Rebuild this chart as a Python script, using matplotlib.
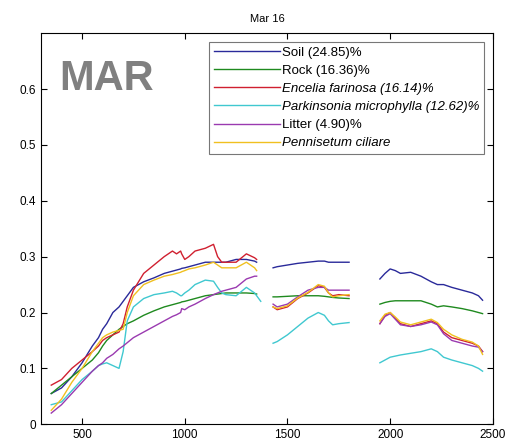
import numpy as np
import matplotlib
matplotlib.use("Agg")
import matplotlib.pyplot as plt

nan = np.nan
# Wavelength (nm) with NaN gaps for water absorption bands
x1 = [350, 400, 450, 500, 550, 580, 600, 620, 650, 680, 700, 720, 750, 800, 850, 900, 940, 960, 980, 985, 1000, 1020, 1050, 1100, 1140, 1160, 1180, 1200, 1250, 1300, 1340, 1350, 1370]
x2 = [1430, 1450, 1500, 1550, 1600, 1650, 1680, 1700, 1720, 1750, 1800]
x3 = [1950, 1975, 2000, 2025, 2050, 2100, 2150, 2200, 2230, 2260, 2300, 2350, 2400, 2430, 2450]

soil1 = [0.055, 0.065, 0.085, 0.11, 0.14, 0.155, 0.17, 0.18, 0.20, 0.21, 0.22, 0.23, 0.245, 0.255, 0.262, 0.27, 0.274, 0.276, 0.278, 0.279, 0.28, 0.282, 0.285, 0.29, 0.29, 0.29, 0.29, 0.29, 0.295, 0.295, 0.292, 0.29, nan]
soil2 = [0.28, 0.282, 0.285, 0.288, 0.29, 0.292, 0.292, 0.29, 0.29, 0.29, 0.29]
soil3 = [0.26, 0.27, 0.278, 0.275, 0.27, 0.272, 0.265, 0.255, 0.25, 0.25, 0.245, 0.24, 0.235, 0.23, 0.222]

rock1 = [0.055, 0.07, 0.085, 0.10, 0.115, 0.128, 0.14, 0.15, 0.16, 0.17, 0.175, 0.18, 0.185, 0.195, 0.203, 0.21, 0.214, 0.216, 0.218, 0.219, 0.22, 0.222, 0.225, 0.23, 0.232, 0.233, 0.234, 0.235, 0.235, 0.235, 0.234, 0.233, nan]
rock2 = [0.228, 0.228, 0.229, 0.23, 0.23, 0.23, 0.229, 0.228, 0.227, 0.226, 0.225]
rock3 = [0.215, 0.218, 0.22, 0.221, 0.221, 0.221, 0.221, 0.215, 0.21, 0.212, 0.21, 0.207, 0.203, 0.2, 0.198]

enc1 = [0.07, 0.08, 0.10, 0.115, 0.13, 0.14, 0.15, 0.155, 0.16, 0.165, 0.18, 0.21, 0.24, 0.27, 0.285, 0.30, 0.31, 0.305, 0.31, 0.305, 0.295, 0.30, 0.31, 0.315, 0.322, 0.30, 0.29, 0.29, 0.29, 0.305, 0.298, 0.295, nan]
enc2 = [0.21, 0.205, 0.21, 0.225, 0.235, 0.248, 0.245, 0.235, 0.23, 0.232, 0.23]
enc3 = [0.18, 0.195, 0.2, 0.19, 0.18, 0.175, 0.18, 0.185, 0.18, 0.165, 0.155, 0.15, 0.145, 0.14, 0.13]

park1 = [0.035, 0.04, 0.06, 0.08, 0.095, 0.105, 0.108, 0.11, 0.105, 0.10, 0.13, 0.185, 0.21, 0.225, 0.232, 0.235, 0.238, 0.235, 0.23, 0.23, 0.235, 0.24, 0.25, 0.258, 0.256, 0.245, 0.235, 0.232, 0.23, 0.245, 0.235, 0.23, 0.22]
park2 = [0.145, 0.148, 0.16, 0.175, 0.19, 0.20, 0.195, 0.185, 0.178, 0.18, 0.182]
park3 = [0.11, 0.115, 0.12, 0.122, 0.124, 0.127, 0.13, 0.135, 0.13, 0.12, 0.115, 0.11, 0.105, 0.10, 0.095]

lit1 = [0.02, 0.035, 0.055, 0.075, 0.095, 0.105, 0.11, 0.118, 0.125, 0.135, 0.14, 0.146, 0.155, 0.165, 0.175, 0.185, 0.193, 0.196, 0.20, 0.207, 0.205, 0.21, 0.215, 0.225, 0.232, 0.235, 0.238, 0.24, 0.245, 0.26, 0.265, 0.265, nan]
lit2 = [0.215, 0.21, 0.215, 0.228, 0.24, 0.245, 0.245, 0.24, 0.24, 0.24, 0.24]
lit3 = [0.18, 0.193, 0.198, 0.188, 0.178, 0.175, 0.178, 0.183, 0.178, 0.162, 0.15, 0.145, 0.14, 0.138, 0.13]

pen1 = [0.025, 0.045, 0.075, 0.10, 0.13, 0.145, 0.155, 0.16, 0.165, 0.168, 0.17, 0.20, 0.23, 0.25, 0.258, 0.265, 0.268, 0.27, 0.272, 0.273, 0.275, 0.278, 0.28, 0.285, 0.29, 0.285, 0.28, 0.28, 0.28, 0.29, 0.28, 0.275, nan]
pen2 = [0.21, 0.207, 0.212, 0.226, 0.236, 0.25, 0.247, 0.235, 0.228, 0.23, 0.232]
pen3 = [0.185, 0.197, 0.2, 0.192, 0.183, 0.178, 0.183, 0.188, 0.182, 0.17, 0.16, 0.152, 0.147, 0.14, 0.125]

labels = ["Soil (24.85)%", "Rock (16.36)%", "Encelia farinosa (16.14)%",
          "Parkinsonia microphylla (12.62)%", "Litter (4.90)%", "Pennisetum ciliare"]
italic = [False, False, True, True, False, True]
colors = ["#2a2a9a", "#1f8a1f", "#d02030", "#40c8d0", "#9a3ab0", "#f0c020"]

xs = x1 + [nan] + x2 + [nan] + x3
series = [soil1 + [nan] + soil2 + [nan] + soil3,
          rock1 + [nan] + rock2 + [nan] + rock3,
          enc1 + [nan] + enc2 + [nan] + enc3,
          park1 + [nan] + park2 + [nan] + park3,
          lit1 + [nan] + lit2 + [nan] + lit3,
          pen1 + [nan] + pen2 + [nan] + pen3]

plt.rcParams['font.family'] = ['Liberation Sans', 'DejaVu Sans']
fig = plt.figure(figsize=(5.06, 4.48), dpi=100)
ax = fig.add_axes([0.081, 0.053, 0.893, 0.873])
for s, c, l in zip(series, colors, labels):
    ax.plot(xs, s, color=c, lw=1.0, label=l)

ax.set_xlim(300, 2500)
ax.set_ylim(0, 0.7)
ax.set_xticks([500, 1000, 1500, 2000, 2500])
ax.set_yticks([0, 0.1, 0.2, 0.3, 0.4, 0.5, 0.6])
ax.set_yticklabels(["0", "0.1", "0.2", "0.3", "0.4", "0.5", "0.6"])
ax.tick_params(direction='in', top=True, right=True, labelsize=8.5, length=4, width=0.8)
for sp in ax.spines.values():
    sp.set_linewidth(0.8)
ax.set_title("Mar 16", fontsize=8, pad=8)

ax.text(0.04, 0.935, "MAR", transform=ax.transAxes, fontsize=30, fontweight='bold',
        color='#808080', va='top', ha='left')

leg = ax.legend(loc='upper right', bbox_to_anchor=(0.987, 0.985), fontsize=9.5,
                frameon=True, fancybox=False, edgecolor='#555555', handlelength=5.0,
                handletextpad=0.2, borderpad=0.35, labelspacing=0.45, borderaxespad=0.2)
leg.get_frame().set_linewidth(0.8)
for t, it in zip(leg.get_texts(), italic):
    if it:
        t.set_fontstyle('italic')

fig.savefig("out.png", dpi=100)
